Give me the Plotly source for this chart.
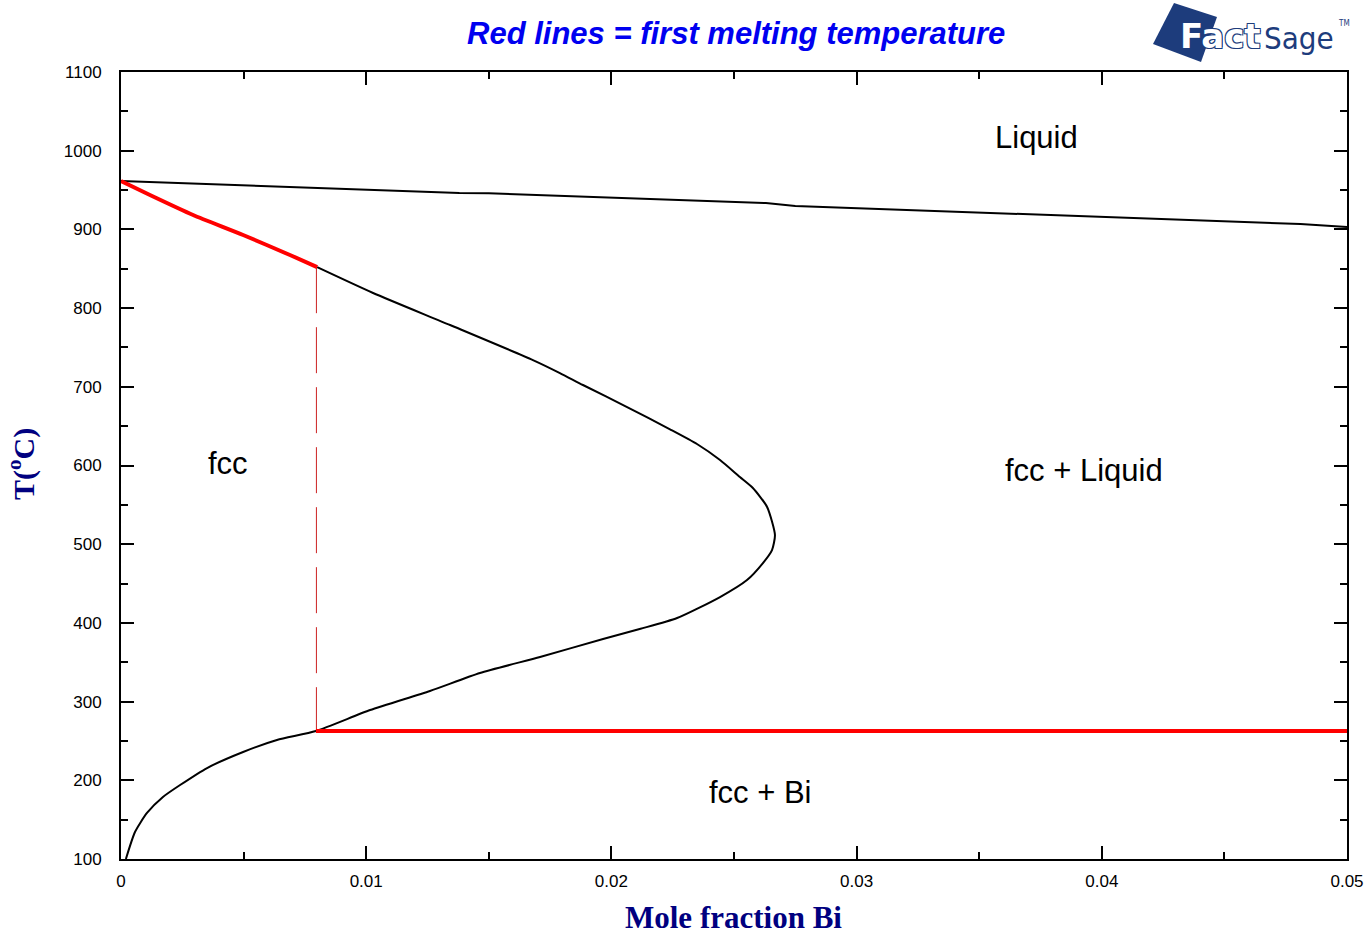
import plotly.graph_objects as go

# ---------------- data ----------------
liquidus_x = [0, 0.0093, 0.0138, 0.0150, 0.0263, 0.0275, 0.0481, 0.05]
liquidus_T = [961.5, 951.3, 946.3, 946.0, 933.5, 929.7, 906.9, 903]

solidus_red_x = [0, 0.00118, 0.00294, 0.00498, 0.00689, 0.0080]
solidus_red_T = [961.5, 943.7, 918.3, 892.9, 867.5, 852]

solvus_x = [0.0080, 0.01028, 0.01342, 0.0168, 0.0179, 0.01884, 0.02064, 0.02239,
            0.02349, 0.02443, 0.02524, 0.02577, 0.02635, 0.02667, 0.02655, 0.02618,
            0.02553, 0.02443, 0.02268, 0.02119, 0.01966, 0.01709, 0.01464, 0.0126,
            0.01016, 0.00795, 0.00636, 0.00498, 0.00351, 0.00241, 0.00171, 0.00106,
            0.00057, 0.0002]
solvus_T = [852, 819.2, 778.5, 734, 717.5, 702.3, 674.3, 646.0,
            627.3, 607, 585.4, 571.4, 547.3, 511.7, 492.6, 476.1,
            454.5, 432.9, 406.2, 392.5, 379.5, 356.7, 336.3, 313.5,
            289.3, 262.6, 251.2, 236, 215.6, 194, 178.8, 158.5,
            134.3, 100]

eutectic_x = [0.00795, 0.05]
eutectic_T = [262.6, 262.6]

dash_x = [0.00797, 0.00797]
dash_T = [852, 262.6]

region_labels = ["Liquid", "fcc", "fcc + Liquid", "fcc + Bi"]
region_x = [0.03735, 0.00436, 0.03927, 0.0261]
region_T = [1017, 603, 594, 184]

x_ticks = [0, 0.01, 0.02, 0.03, 0.04, 0.05]
x_ticklabels = ["0", "0.01", "0.02", "0.03", "0.04", "0.05"]
y_ticks = [100, 200, 300, 400, 500, 600, 700, 800, 900, 1000, 1100]

# ---------------- figure ----------------
W, H = 1366, 934
ML, MR, MT, MB = 121, 19, 72, 75
PW, PH = W - ML - MR, H - MT - MB


def px2paper(px, py):
    return (px - ML) / PW, (H - MB - py) / PH


fig = go.Figure()
fig.add_trace(go.Scatter(x=liquidus_x, y=liquidus_T, mode="lines",
                         line=dict(color="black", width=2), hoverinfo="skip"))
fig.add_trace(go.Scatter(x=solvus_x, y=solvus_T, mode="lines",
                         line=dict(color="black", width=2, shape="spline", smoothing=0.6),
                         hoverinfo="skip"))
fig.add_trace(go.Scatter(x=dash_x, y=dash_T, mode="lines",
                         line=dict(color="#cc2020", width=1, dash="46px,14px"), hoverinfo="skip"))
fig.add_trace(go.Scatter(x=solidus_red_x, y=solidus_red_T, mode="lines",
                         line=dict(color="#ff0000", width=4, shape="spline", smoothing=0.6),
                         hoverinfo="skip"))
fig.add_trace(go.Scatter(x=eutectic_x, y=eutectic_T, mode="lines",
                         line=dict(color="#ff0000", width=4), hoverinfo="skip"))

annotations = []
for lab, xv, tv in zip(region_labels, region_x, region_T):
    annotations.append(dict(x=xv, y=tv, xref="x", yref="y", text=lab, showarrow=False,
                            font=dict(family="Liberation Sans, Arial", size=31, color="black")))

tx, ty = px2paper(736, 33)
annotations.append(dict(x=tx, y=ty, xref="paper", yref="paper",
                        text="<b><i>Red lines = first melting temperature</i></b>",
                        showarrow=False, xanchor="center", yanchor="middle",
                        font=dict(family="Liberation Sans, Arial", size=31, color="#0000f0")))

xx, xy = px2paper(733, 917)
annotations.append(dict(x=xx, y=xy, xref="paper", yref="paper",
                        text="<b>Mole fraction Bi</b>", showarrow=False,
                        xanchor="center", yanchor="middle",
                        font=dict(family="Liberation Serif, Times New Roman", size=31, color="#000080")))
yx, yy = px2paper(21, 464)
annotations.append(dict(x=yx, y=yy, xref="paper", yref="paper",
                        text="<b>T(<sup>o</sup>C)</b>", showarrow=False, textangle=-90,
                        xanchor="center", yanchor="middle",
                        font=dict(family="Liberation Serif, Times New Roman", size=30, color="#000080")))

# FactSage logo
navy = "#1d3c7c"
p = [px2paper(1174, 3), px2paper(1217, 17), px2paper(1201, 62), px2paper(1153, 44)]
path = "M {} {} L {} {} L {} {} L {} {} Z".format(p[0][0], p[0][1], p[1][0], p[1][1],
                                                 p[2][0], p[2][1], p[3][0], p[3][1])
shapes = [dict(type="path", xref="paper", yref="paper", path=path,
               fillcolor=navy, line=dict(width=0), layer="above")]
fx, fy = px2paper(1178, 36)
annotations.append(dict(x=fx, y=fy, xref="paper", yref="paper", text="<b>Fact</b>",
                        showarrow=False, xanchor="left", yanchor="middle",
                        font=dict(family="DejaVu Sans", size=34, color="white",
                                  shadow="1px 1px 0 %s, -1px -1px 0 %s, 1px -1px 0 %s, -1px 1px 0 %s" % (navy, navy, navy, navy))))
sx, sy = px2paper(1262, 38)
annotations.append(dict(x=sx, y=sy, xref="paper", yref="paper", text="Sage",
                        showarrow=False, xanchor="left", yanchor="middle",
                        font=dict(family="DejaVu Sans Condensed, DejaVu Sans", size=31, color=navy)))
mx, my = px2paper(1336, 24)
annotations.append(dict(x=mx, y=my, xref="paper", yref="paper", text="TM",
                        showarrow=False, xanchor="left", yanchor="middle",
                        font=dict(family="DejaVu Sans Condensed, DejaVu Sans", size=8, color=navy)))

axis_common = dict(showgrid=False, zeroline=False, showline=True, linecolor="black",
                   linewidth=2, mirror="ticks", ticks="inside", ticklen=13, tickwidth=2,
                   tickcolor="black", automargin=False,
                   tickfont=dict(family="Liberation Sans, Arial", size=17, color="black"))

fig.update_layout(
    width=W, height=H,
    margin=dict(l=ML, r=MR, t=MT, b=MB, pad=0),
    paper_bgcolor="white", plot_bgcolor="white",
    showlegend=False,
    xaxis=dict(range=[0, 0.05], tickvals=x_ticks, ticktext=x_ticklabels,
               minor=dict(dtick=0.005, tick0=0, ticks="inside", ticklen=7, tickwidth=2,
                          tickcolor="black", showgrid=False),
               ticklabelstandoff=6, **axis_common),
    yaxis=dict(range=[100, 1100], tickvals=y_ticks,
               minor=dict(dtick=50, tick0=0, ticks="inside", ticklen=7, tickwidth=2,
                          tickcolor="black", showgrid=False),
               ticklabelstandoff=14, **axis_common),
    annotations=annotations,
    shapes=shapes,
)

fig.write_html("out.html")
